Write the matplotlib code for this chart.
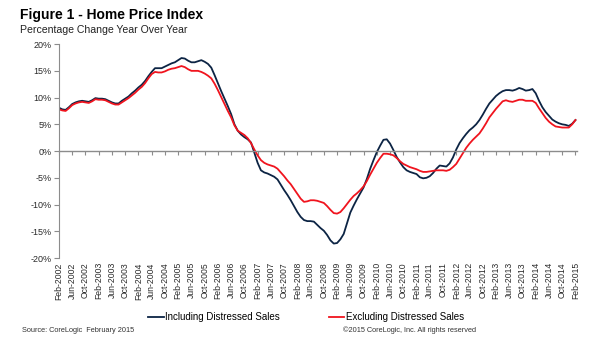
import numpy as np
import pandas as pd
import matplotlib
matplotlib.use("Agg")
import matplotlib.pyplot as plt

plt.rcParams['font.family'] = ['Liberation Sans', 'DejaVu Sans']

# ===============================
# Data: year-over-year change in home prices (%), monthly Feb-2002 .. Feb-2015
# ===============================
months = pd.date_range("2002-02-01", "2015-02-01", freq="MS")

including_distressed = [
    8.1, 7.8, 7.7, 8.2, 8.8, 9.1, 9.3, 9.4, 9.3, 9.2, 9.5, 9.9,
    9.8, 9.8, 9.7, 9.4, 9.1, 8.9, 8.9, 9.4, 9.8, 10.2, 10.8, 11.3,
    11.9, 12.4, 13.1, 14.0, 14.8, 15.5, 15.5, 15.5, 15.8, 16.1, 16.4, 16.6,
    17.0, 17.4, 17.3, 16.9, 16.6, 16.6, 16.8, 17.0, 16.7, 16.3, 15.6, 14.2,
    12.7, 11.2, 9.8, 8.4, 6.9, 5.0, 3.8, 3.1, 2.6, 2.2, 1.6, -0.3,
    -2.2, -3.6, -4.0, -4.2, -4.5, -4.8, -5.3, -6.3, -7.3, -8.2, -9.2, -10.3,
    -11.4, -12.3, -12.9, -13.1, -13.1, -13.2, -13.8, -14.4, -14.9, -15.7, -16.7, -17.3,
    -17.2, -16.5, -15.5, -13.5, -11.5, -10.2, -9.0, -7.9, -6.8, -5.2, -3.3, -1.7,
    -0.2, 1.0, 2.1, 2.2, 1.4, 0.2, -1.1, -2.1, -3.0, -3.6, -3.9, -4.1,
    -4.3, -4.9, -5.1, -5.0, -4.7, -4.1, -3.3, -2.7, -2.8, -2.9, -2.3, -1.2,
    0.3, 1.5, 2.4, 3.2, 3.9, 4.4, 5.0, 5.8, 6.8, 7.9, 8.9, 9.6,
    10.3, 10.8, 11.2, 11.4, 11.4, 11.3, 11.5, 11.8, 11.6, 11.3, 11.4, 11.6,
    10.8, 9.4, 8.2, 7.3, 6.6, 5.9, 5.5, 5.2, 5.0, 4.9, 4.7, 5.1,
    5.8,
]

excluding_distressed = [
    7.8, 7.6, 7.5, 8.0, 8.6, 8.9, 9.1, 9.2, 9.1, 9.0, 9.3, 9.7,
    9.6, 9.6, 9.5, 9.2, 8.9, 8.7, 8.7, 9.1, 9.5, 9.9, 10.4, 10.9,
    11.5, 12.0, 12.7, 13.6, 14.4, 14.8, 14.7, 14.7, 14.9, 15.2, 15.4, 15.5,
    15.7, 15.9, 15.7, 15.3, 15.0, 15.0, 15.0, 14.8, 14.5, 14.1, 13.6, 12.6,
    11.4, 10.1, 8.8, 7.5, 6.3, 4.8, 3.8, 3.4, 3.0, 2.4, 1.5, 0.3,
    -0.8, -1.7, -2.2, -2.5, -2.7, -2.9, -3.3, -4.0, -4.7, -5.5, -6.2, -7.1,
    -8.0, -8.9, -9.5, -9.4, -9.2, -9.2, -9.3, -9.5, -9.7, -10.3, -11.0, -11.6,
    -11.7, -11.4, -10.7, -9.9, -9.1, -8.4, -7.9, -7.3, -6.6, -5.6, -4.4, -3.3,
    -2.2, -1.3, -0.5, -0.5, -0.6, -0.8, -1.3, -1.9, -2.4, -2.7, -3.0, -3.2,
    -3.4, -3.7, -3.9, -3.9, -3.8, -3.7, -3.6, -3.6, -3.6, -3.7, -3.5, -3.0,
    -2.4, -1.4, -0.4, 0.6, 1.4, 2.1, 2.7, 3.3, 4.2, 5.2, 6.3, 7.1,
    7.9, 8.6, 9.3, 9.5, 9.3, 9.2, 9.4, 9.6, 9.6, 9.4, 9.4, 9.4,
    9.0, 8.0, 7.1, 6.2, 5.5, 5.0, 4.6, 4.5, 4.4, 4.4, 4.4, 5.0,
    5.8,
]

y_ticks = [-20, -15, -10, -5, 0, 5, 10, 15, 20]
tick_step = 4  # one label every 4 months

NAVY = "#0c2444"
RED = "#f0141e"
GREY = "#8c8c8c"

# ===============================
# Plot
# ===============================
x = np.arange(len(months))
tick_pos = x[::tick_step]
tick_labels = [d.strftime("%b-%Y") for d in months[::tick_step]]

fig = plt.figure(figsize=(6.0, 3.42), dpi=100)
ax = fig.add_axes([0.0983, 0.2456, 0.863, 0.6254])

ax.plot(x, including_distressed, color=NAVY, lw=1.3, label="Including Distressed Sales")
ax.plot(x, excluding_distressed, color=RED, lw=1.3, label="Excluding Distressed Sales")

ax.set_xlim(0, len(months) - 0.6)
ax.set_ylim(-20, 20)

# y axis
ax.set_yticks(y_ticks)
ax.set_yticklabels([f"{v}%" for v in y_ticks], fontsize=6.5, color="#2a2a2a")
ax.tick_params(axis="y", length=3.5, width=0.8, color=GREY, pad=2)

# zero line carries the month tick marks, labels sit at the bottom
for side in ["top", "right"]:
    ax.spines[side].set_visible(False)
ax.spines["left"].set_color(GREY)
ax.spines["left"].set_linewidth(0.8)
ax.spines["bottom"].set_position(("data", 0))
ax.spines["bottom"].set_color(GREY)
ax.spines["bottom"].set_linewidth(1.0)
ax.set_xticks(tick_pos)
ax.tick_params(axis="x", length=3, width=0.8, color=GREY, labelbottom=False)

sec = ax.secondary_xaxis(0)
sec.set_xticks(tick_pos)
sec.set_xticklabels(tick_labels, rotation=90, fontsize=6.2, color="#2a2a2a")
sec.tick_params(axis="x", length=0, pad=3)
sec.spines["bottom"].set_visible(False)

# ===============================
# Titles, legend, footer
# ===============================
fig.text(0.034, 0.955, "Figure 1 - Home Price Index", fontsize=10,
         fontweight="bold", va="center", ha="left")
fig.text(0.034, 0.912, "Percentage Change Year Over Year", fontsize=7.6,
         va="center", ha="left", color="#222222")

fig.legend(loc="center", bbox_to_anchor=(0.51, 0.073), ncol=2, frameon=False,
           fontsize=7.0, handlelength=1.6, handletextpad=0.15, columnspacing=5.0)

fig.text(0.037, 0.035, "Source: CoreLogic  February 2015", fontsize=5.3,
         va="center", ha="left", color="#333333")
fig.text(0.571, 0.035, "\u00a92015 CoreLogic, Inc. All rights reserved", fontsize=5.3,
         va="center", ha="left", color="#333333")

fig.savefig("out.png", dpi=100)
